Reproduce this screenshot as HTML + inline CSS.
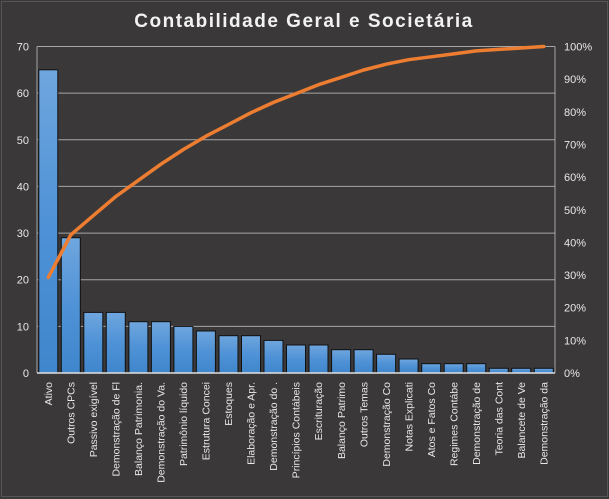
<!DOCTYPE html>
<html><head><style>body{margin:0;background:#3a3838}svg{display:block}</style></head><body>
<svg width="609" height="499" xmlns="http://www.w3.org/2000/svg" font-family="Liberation Sans, DejaVu Sans, sans-serif">
<defs><linearGradient id="g" x1="0" y1="0" x2="0" y2="1"><stop offset="0" stop-color="#6fa6de"/><stop offset="0.5" stop-color="#4f92d6"/><stop offset="1" stop-color="#3f86cc"/></linearGradient></defs>
<rect x="0" y="0" width="609" height="499" fill="#3a3838"/>
<rect x="1.5" y="1.5" width="606" height="495" fill="none" stroke="#555" stroke-width="1"/>
<text x="304" y="27" text-anchor="middle" font-size="19" font-weight="bold" fill="#f2f2f2" letter-spacing="1.5">Contabilidade  Geral  e  Societária</text>
<g stroke="#a6a6a6" stroke-width="1">
<line x1="37" y1="46.5" x2="555" y2="46.5"/><line x1="37" y1="93.1" x2="555" y2="93.1"/><line x1="37" y1="139.8" x2="555" y2="139.8"/><line x1="37" y1="186.4" x2="555" y2="186.4"/><line x1="37" y1="233.1" x2="555" y2="233.1"/><line x1="37" y1="279.7" x2="555" y2="279.7"/><line x1="37" y1="326.4" x2="555" y2="326.4"/>
<line x1="37" y1="46.5" x2="37" y2="373"/><line x1="555" y1="46.5" x2="555" y2="373"/>
</g>
<g fill="url(#g)" stroke="#111" stroke-width="1">
<rect x="38.8" y="69.8" width="19" height="303.2"/>
<rect x="61.3" y="237.7" width="19" height="135.3"/>
<rect x="83.8" y="312.4" width="19" height="60.6"/>
<rect x="106.3" y="312.4" width="19" height="60.6"/>
<rect x="128.9" y="321.7" width="19" height="51.3"/>
<rect x="151.4" y="321.7" width="19" height="51.3"/>
<rect x="173.9" y="326.4" width="19" height="46.6"/>
<rect x="196.4" y="331" width="19" height="42"/>
<rect x="219" y="335.7" width="19" height="37.3"/>
<rect x="241.5" y="335.7" width="19" height="37.3"/>
<rect x="264" y="340.4" width="19" height="32.6"/>
<rect x="286.5" y="345" width="19" height="28"/>
<rect x="309" y="345" width="19" height="28"/>
<rect x="331.6" y="349.7" width="19" height="23.3"/>
<rect x="354.1" y="349.7" width="19" height="23.3"/>
<rect x="376.6" y="354.3" width="19" height="18.7"/>
<rect x="399.1" y="359" width="19" height="14"/>
<rect x="421.7" y="363.7" width="19" height="9.3"/>
<rect x="444.2" y="363.7" width="19" height="9.3"/>
<rect x="466.7" y="363.7" width="19" height="9.3"/>
<rect x="489.2" y="368.3" width="19" height="4.7"/>
<rect x="511.7" y="368.3" width="19" height="4.7"/>
<rect x="534.3" y="368.3" width="19" height="4.7"/>
</g>
<line x1="37" y1="373" x2="555" y2="373" stroke="#e0e0e0" stroke-width="1.5"/>
<polyline fill="none" stroke="#ed7d31" stroke-width="3.5" stroke-linejoin="round" stroke-linecap="round" points="48.3,277.4 70.8,234.8 93.3,215.6 115.8,196.5 138.4,180.3 160.9,164.2 183.4,149.5 205.9,136.2 228.5,124.5 251,112.7 273.5,102.4 296,93.6 318.5,84.7 341.1,77.4 363.6,70 386.1,64.2 408.6,59.7 431.2,56.8 453.7,53.9 476.2,50.9 498.7,49.4 521.2,48 543.8,46.5"/>
<g fill="#e8e8e8" font-size="11" text-anchor="end">
<text x="29" y="377">0</text><text x="29" y="330.4">10</text><text x="29" y="283.7">20</text><text x="29" y="237.1">30</text><text x="29" y="190.4">40</text><text x="29" y="143.8">50</text><text x="29" y="97.1">60</text><text x="29" y="50.5">70</text>
</g>
<g fill="#e8e8e8" font-size="11">
<text x="564" y="377">0%</text><text x="564" y="344.4">10%</text><text x="564" y="311.7">20%</text><text x="564" y="279.1">30%</text><text x="564" y="246.4">40%</text><text x="564" y="213.8">50%</text><text x="564" y="181.1">60%</text><text x="564" y="148.5">70%</text><text x="564" y="115.8">80%</text><text x="564" y="83.2">90%</text><text x="564" y="50.5">100%</text>
</g>
<g fill="#e8e8e8" font-size="10.5" text-anchor="end">
<text transform="translate(52,382) rotate(-90)">Ativo</text>
<text transform="translate(74.5,382) rotate(-90)">Outros CPCs</text>
<text transform="translate(97,382) rotate(-90)">Passivo exigível</text>
<text transform="translate(119.5,382) rotate(-90)">Demonstração de Fl</text>
<text transform="translate(142.1,382) rotate(-90)">Balanço Patrimonia.</text>
<text transform="translate(164.6,382) rotate(-90)">Demonstração do Va.</text>
<text transform="translate(187.1,382) rotate(-90)">Patrimônio líquido</text>
<text transform="translate(209.6,382) rotate(-90)">Estrutura Concei</text>
<text transform="translate(232.2,382) rotate(-90)">Estoques</text>
<text transform="translate(254.7,382) rotate(-90)">Elaboração e Apr.</text>
<text transform="translate(277.2,382) rotate(-90)">Demonstração do .</text>
<text transform="translate(299.7,382) rotate(-90)">Princípios Contábeis</text>
<text transform="translate(322.2,382) rotate(-90)">Escrituração</text>
<text transform="translate(344.8,382) rotate(-90)">Balanço Patrimo</text>
<text transform="translate(367.3,382) rotate(-90)">Outros Temas</text>
<text transform="translate(389.8,382) rotate(-90)">Demonstração Co</text>
<text transform="translate(412.3,382) rotate(-90)">Notas Explicati</text>
<text transform="translate(434.9,382) rotate(-90)">Atos e Fatos Co</text>
<text transform="translate(457.4,382) rotate(-90)">Regimes Contábe</text>
<text transform="translate(479.9,382) rotate(-90)">Demonstração de</text>
<text transform="translate(502.4,382) rotate(-90)">Teoria das Cont</text>
<text transform="translate(524.9,382) rotate(-90)">Balancete de Ve</text>
<text transform="translate(547.5,382) rotate(-90)">Demonstração da</text>
</g>
</svg>
</body></html>
